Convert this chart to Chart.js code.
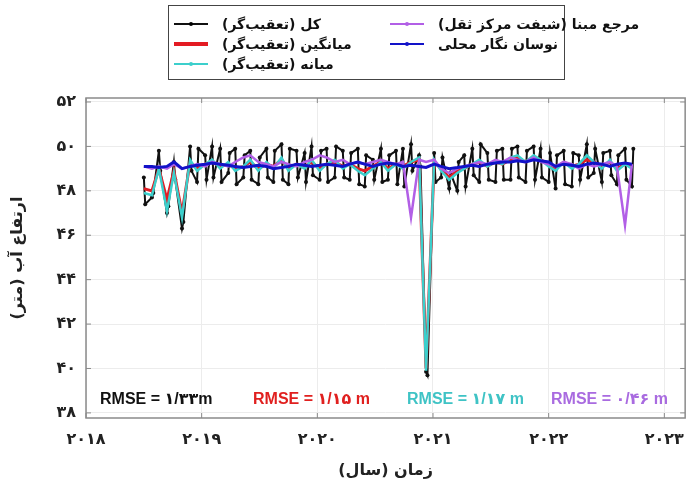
<!DOCTYPE html>
<html><head><meta charset="utf-8">
<script src="https://cdn.jsdelivr.net/npm/chart.js@4.4.1/dist/chart.umd.min.js"></script>
<style>
html,body{margin:0;padding:0;background:#fff;}
#wrap{position:relative;width:696px;height:490px;}
#c{position:absolute;left:0;top:0;}
.lg{position:absolute;left:168px;top:5px;width:397px;height:75px;border:1px solid #444;box-sizing:border-box;background:#fff;}
.it{position:absolute;height:20px;}
.sw{position:absolute;top:9px;height:0;}
.dot{position:absolute;width:4px;height:4px;border-radius:2px;top:-2px;}
.tx{position:absolute;top:0;font:bold 14px "DejaVu Sans";white-space:nowrap;line-height:20px;color:#111;}
.rm{position:absolute;font:bold 16px "Liberation Sans","DejaVu Sans";white-space:nowrap;line-height:20px;}
</style></head><body>
<div id="wrap"><canvas id="c" width="696" height="490" dir="rtl"></canvas><div class="lg" id="lg"></div><div id="rms"></div></div>
<script>
// decimal-year dates of the tracker samples
const dates = [2018.50,2018.57,2018.63,2018.70,2018.76,2018.83,2018.90,2018.96,2019.03,2019.09,
2019.16,2019.23,2019.29,2019.36,2019.42,2019.49,2019.56,2019.62,2019.69,2019.75,
2019.82,2019.89,2019.95,2020.02,2020.08,2020.15,2020.22,2020.28,2020.35,2020.41,
2020.48,2020.55,2020.61,2020.68,2020.74,2020.81,2020.88,2020.94,2021.01,2021.07,
2021.14,2021.21,2021.27,2021.34,2021.40,2021.47,2021.54,2021.60,2021.67,2021.73,
2021.80,2021.87,2021.93,2022.00,2022.06,2022.13,2022.20,2022.26,2022.33,2022.39,
2022.46,2022.53,2022.59,2022.66,2022.72];
// all-tracker heights: two measurements per date
const allFirst = [48.6,47.7,49.8,47.0,49.3,46.3,50.0,48.4,49.6,50.0,
49.9,48.8,49.9,48.6,49.8,48.3,49.9,48.4,50.1,48.3,
49.8,49.7,50.0,48.5,49.9,48.6,49.8,48.5,49.9,48.2,
49.4,49.9,48.5,49.8,49.9,50.1,49.6,39.85,49.7,48.6,
48.1,48.0,49.6,49.9,48.4,49.7,48.4,49.9,48.5,50.0,
48.4,50.0,49.9,48.4,48.1,49.8,48.2,49.6,50.1,48.8,
48.4,49.8,48.3,49.9,48.2];
const allSecond = [47.4,47.9,48.9,47.3,48.5,46.6,48.9,49.9,48.5,48.6,
48.4,49.7,48.3,49.6,48.5,49.5,48.6,49.8,48.5,49.9,
48.6,48.4,48.7,49.8,48.4,50.0,48.6,49.7,48.3,49.6,
48.5,48.4,49.6,48.3,48.2,48.9,49.1,39.7,48.4,49.5,
48.8,49.3,48.2,48.7,50.1,48.5,49.8,48.5,49.9,48.6,
49.8,48.5,48.6,49.7,49.6,48.3,49.7,48.5,48.6,49.9,
49.7,48.7,49.6,48.5,49.9];
const meanTracker = [48.1,48.0,49.0,47.6,48.9,47.0,49.3,49.0,49.2,49.3,
49.1,49.2,49.0,49.1,49.3,49.0,49.2,49.1,49.4,49.0,
49.2,49.1,49.3,49.0,49.2,49.3,49.1,49.2,49.0,48.9,
49.1,49.3,49.0,49.2,49.1,49.3,49.4,40.0,49.3,49.0,
48.6,48.9,49.0,49.2,49.3,49.1,49.3,49.2,49.4,49.5,
49.3,49.5,49.4,49.2,49.0,49.3,49.1,49.2,49.4,49.3,
49.1,49.3,49.0,49.2,49.1];
const medianTracker = [47.9,47.8,49.0,47.1,48.8,46.8,49.4,48.9,49.2,49.4,
49.0,49.3,48.9,49.1,49.4,48.9,49.3,49.0,49.5,48.9,
49.2,49.0,49.4,48.9,49.2,49.4,49.0,49.2,48.9,48.7,
49.0,49.3,48.9,49.2,49.0,49.3,49.5,39.9,49.4,48.9,
48.5,48.8,49.0,49.2,49.4,49.1,49.3,49.2,49.5,49.6,
49.3,49.6,49.4,49.1,48.9,49.3,49.0,49.2,49.6,49.3,
49.0,49.4,48.9,49.2,49.0];
const refCentroid = [49.1,49.0,49.1,49.0,49.2,49.0,49.1,49.2,49.1,49.3,
49.2,49.1,49.3,49.5,49.6,49.3,49.2,49.1,49.3,49.2,
49.1,49.3,49.4,49.6,49.5,49.3,49.4,49.2,49.3,49.2,
49.3,49.4,49.3,49.2,49.3,46.8,49.4,49.3,49.4,49.0,
48.8,49.0,49.1,49.2,49.3,49.2,49.4,49.3,49.5,49.4,
49.3,49.5,49.3,49.2,49.1,49.3,49.2,49.0,49.2,49.1,
49.2,49.3,49.1,46.45,49.2];
const gauge = [49.1,49.1,49.05,49.1,49.3,49.0,49.1,49.15,49.2,49.25,
49.2,49.15,49.1,49.05,49.1,49.15,49.1,49.0,49.05,49.1,
49.2,49.15,49.1,49.15,49.2,49.15,49.1,49.2,49.3,49.2,
49.1,49.2,49.25,49.2,49.1,49.15,49.1,49.05,49.2,49.1,
49.0,49.05,49.1,49.15,49.1,49.2,49.25,49.3,49.3,49.35,
49.3,49.4,49.35,49.3,49.1,49.2,49.15,49.1,49.2,49.25,
49.2,49.1,49.2,49.25,49.2];
const xTicks = [2018,2019,2020,2021,2022,2023];
const yTicks = [38,40,42,44,46,48,50,52];
const labels = ['کل (تعقیب‌گر)','میانگین (تعقیب‌گر)','میانه (تعقیب‌گر)','مرجع مبنا (شیفت مرکز ثقل)','نوسان نگار محلی'];
const rmseText = ['RMSE = ۱/۳۳m','RMSE = ۱/۱۵ m','RMSE = ۱/۱۷ m','RMSE = ۰/۴۶ m'];
const colors = ['#111111','#e31b23','#3ccfcc','#b25fe6','#1212c8'];

const fa = s => String(s).replace(/\d/g, d => '۰۱۲۳۴۵۶۷۸۹'[d]);
const pts = arr => dates.map((d,i)=>({x:d,y:arr[i]}));
const allPts = [];
dates.forEach((d,i)=>{allPts.push({x:d,y:allFirst[i]});allPts.push({x:d+0.012,y:allSecond[i]});});

const frame = {
  id:'frame',
  afterDraw(ch){
    const {ctx,chartArea:a,scales:{x,y}} = ch;
    ctx.save();
    ctx.strokeStyle='#8a8a8a';ctx.lineWidth=1.5;
    ctx.strokeRect(a.left,a.top,a.right-a.left,a.bottom-a.top);
    ctx.lineWidth=1;
    xTicks.forEach(v=>{const p=x.getPixelForValue(v);
      ctx.beginPath();ctx.moveTo(p,a.bottom);ctx.lineTo(p,a.bottom-5);ctx.moveTo(p,a.top);ctx.lineTo(p,a.top+5);ctx.stroke();});
    yTicks.forEach(v=>{const p=y.getPixelForValue(v);
      ctx.beginPath();ctx.moveTo(a.left,p);ctx.lineTo(a.left+5,p);ctx.moveTo(a.right,p);ctx.lineTo(a.right-5,p);ctx.stroke();});
    ctx.restore();
  }
};

const ds = [
  {label:labels[0],data:allPts,borderColor:colors[0],backgroundColor:colors[0],borderWidth:2,pointRadius:2,pointBorderWidth:0,order:4},
  {label:labels[1],data:pts(meanTracker),borderColor:colors[1],borderWidth:3,pointRadius:0,order:3},
  {label:labels[2],data:pts(medianTracker),borderColor:colors[2],borderWidth:2.5,pointRadius:0,order:2},
  {label:labels[3],data:pts(refCentroid),borderColor:colors[3],borderWidth:2.5,pointRadius:0,order:1},
  {label:labels[4],data:pts(gauge),borderColor:colors[4],borderWidth:3,pointRadius:0,order:0}
];

new Chart(document.getElementById('c'),{
  type:'line',
  data:{datasets:ds},
  plugins:[frame],
  options:{
    responsive:false,animation:false,devicePixelRatio:1,
    layout:{padding:{top:98,right:4,left:0,bottom:0}},
    elements:{line:{tension:0}},
    plugins:{legend:{display:false},tooltip:{enabled:false}},
    scales:{
      x:{type:'linear',min:2018,max:2023.18,
        afterBuildTicks:s=>{s.ticks=xTicks.map(v=>({value:v}));},
        afterFit:s=>{s.height=72;},
        grid:{color:'#ececec',drawTicks:false},
        border:{display:false},
        ticks:{callback:v=>fa(v),font:{family:'DejaVu Sans',size:16,weight:'bold'},color:'#222',padding:12,maxRotation:0},
        title:{display:true,text:'زمان (سال)',font:{family:'DejaVu Sans',size:16,weight:'bold'},color:'#222',padding:{top:0,bottom:10}}
      },
      y:{min:37.77,max:52.18,
        afterBuildTicks:s=>{s.ticks=yTicks.map(v=>({value:v}));},
        afterFit:s=>{s.width=86;},
        grid:{color:'#ececec',drawTicks:false},
        border:{display:false},
        ticks:{callback:v=>fa(v),font:{family:'DejaVu Sans',size:16,weight:'bold'},color:'#222',padding:10},
        title:{display:true,text:'ارتفاع آب (متر)',font:{family:'DejaVu Sans',size:16,weight:'bold'},color:'#222',padding:{top:8,bottom:0}}
      }
    }
  }
});

// legend built from the datasets
const lg = document.getElementById('lg');
const pos = [[3,8],[3,28],[3,48],[219,8],[219,28]];
ds.forEach((d,i)=>{
  const it=document.createElement('div');it.className='it';
  it.style.left=pos[i][0]+'px';it.style.top=pos[i][1]+'px';
  const sw=document.createElement('div');sw.className='sw';
  sw.style.left='2px';sw.style.width='34px';
  const lw = i===1?4:2;
  sw.style.borderTop=lw+'px solid '+d.borderColor;sw.style.top=(10-lw/2)+'px';
  const dot=document.createElement('div');dot.className='dot';dot.style.left='15px';dot.style.top=(-lw/2-2)+'px';
  dot.style.background=i===0?'#000':d.borderColor;
  sw.appendChild(dot);
  const tx=document.createElement('div');tx.className='tx';tx.dir='rtl';tx.style.left='50px';tx.textContent=d.label;
  it.appendChild(sw);it.appendChild(tx);lg.appendChild(it);
});
// RMSE labels
const rms=document.getElementById('rms');
const rx=[100,253,407,551];
const rc=['#111111','#e0201f','#3fc3c5','#a96be0'];
rmseText.forEach((t,i)=>{const e=document.createElement('div');e.className='rm';e.style.left=rx[i]+'px';e.style.top='389px';e.style.color=rc[i];e.textContent=t;rms.appendChild(e);});
</script>
</body></html>
